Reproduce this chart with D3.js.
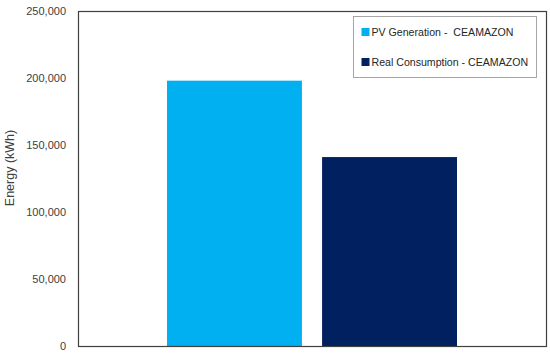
<!DOCTYPE html>
<html>
<head>
<meta charset="utf-8">
<script src="https://cdn.jsdelivr.net/npm/d3@7"></script>
<style>
  body { margin: 0; background: #fff; }
  svg text { font-family: "Liberation Sans", Arial, sans-serif; }
</style>
</head>
<body>
<div id="chart"></div>
<script>
var series = ['PV Generation -  CEAMAZON', 'Real Consumption - CEAMAZON'];
var values = [198000, 141000];
var colors = ['#00B0F0', '#002060'];
var yTicks = [0, 50000, 100000, 150000, 200000, 250000];

var width = 550;
var height = 355;
var margin = { top: 11, right: 4, bottom: 9, left: 78 };
var innerW = width - margin.left - margin.right;
var innerH = height - margin.top - margin.bottom;

var svg = d3.select('#chart').append('svg')
    .attr('width', width)
    .attr('height', height);

var g = svg.append('g')
    .attr('transform', 'translate(' + margin.left + ',' + margin.top + ')');

var y = d3.scaleLinear().domain([0, 250000]).range([innerH, 0]);

// bars sit in the middle, with a small gap between them
var x = d3.scaleBand()
    .domain(series)
    .range([89, 379])
    .paddingInner(0.13);

g.selectAll('rect.bar')
    .data(series)
    .enter().append('rect')
    .attr('class', 'bar')
    .attr('x', function(d) { return x(d); })
    .attr('width', x.bandwidth())
    .attr('y', function(d, i) { return y(values[i]); })
    .attr('height', function(d, i) { return innerH - y(values[i]); })
    .attr('fill', function(d, i) { return colors[i]; });

// y axis labels, no tick marks
var yAxis = d3.axisLeft(y)
    .tickValues(yTicks)
    .tickSize(0)
    .tickPadding(12)
    .tickFormat(d3.format(','));

var ax = g.append('g').call(yAxis);
ax.select('.domain').remove();
ax.selectAll('text')
    .attr('fill', '#404040')
    .style('font-size', '11px');

// plot frame
g.append('rect')
    .attr('x', 0.5)
    .attr('y', 0.5)
    .attr('width', innerW)
    .attr('height', innerH)
    .attr('fill', 'none')
    .attr('stroke', '#404040')
    .attr('stroke-width', 1.2);

svg.append('text')
    .attr('transform', 'translate(14,' + 168 + ') rotate(-90)')
    .attr('text-anchor', 'middle')
    .attr('fill', '#404040')
    .style('font-size', '12.5px')
    .text('Energy (kWh)');

// legend
var legend = svg.append('g').attr('transform', 'translate(353.5,16.5)');
legend.append('rect')
    .attr('width', 183)
    .attr('height', 61)
    .attr('fill', '#fff')
    .attr('stroke', '#a6a6a6');

var items = legend.selectAll('g.item')
    .data(series)
    .enter().append('g')
    .attr('class', 'item')
    .attr('transform', function(d, i) { return 'translate(8,' + (15.5 + i * 30) + ')'; });

items.append('rect')
    .attr('x', 0)
    .attr('y', -4)
    .attr('width', 8)
    .attr('height', 8)
    .attr('fill', function(d, i) { return colors[i]; });

items.append('text')
    .attr('x', 10)
    .attr('y', 0)
    .attr('dy', '0.35em')
    .attr('fill', '#262626')
    .style('font-size', '10.6px')
    .style('white-space', 'pre')
    .text(function(d) { return d; });
</script>
</body>
</html>
